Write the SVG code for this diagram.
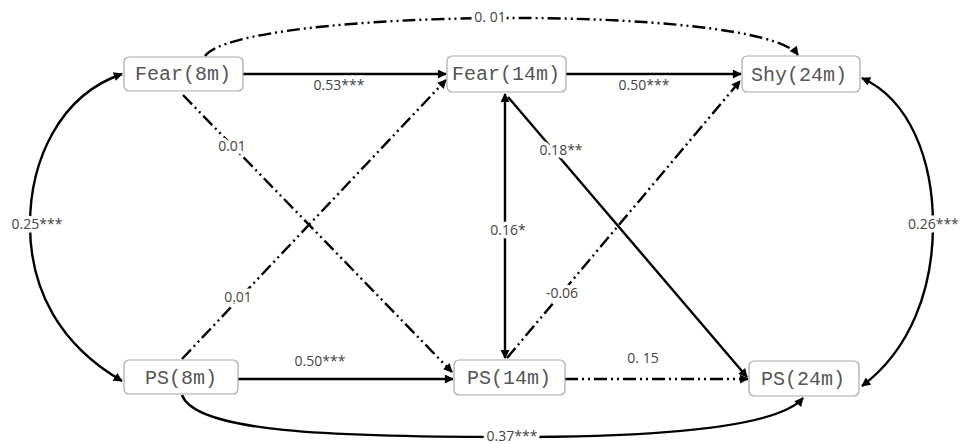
<svg xmlns="http://www.w3.org/2000/svg" width="961" height="444" viewBox="0 0 961 444">
<style>
.box{fill:#fff;stroke:#a8a8a8;stroke-width:1.2}
.nt{font-family:"Liberation Mono",monospace;font-size:20px;fill:#555;text-anchor:middle}
.e{fill:none;stroke:#000;stroke-width:2.4}
.d{stroke-dasharray:13 4 2 4 2 4}
.lb{font-family:"Open Sans","Liberation Sans",sans-serif;font-size:14px;fill:#444;text-anchor:middle;stroke:#fff;stroke-width:7;paint-order:stroke;stroke-linejoin:round}
</style>
<defs>
<marker id="ah" viewBox="0 0 10 10" refX="9" refY="5" markerWidth="11" markerHeight="9" markerUnits="userSpaceOnUse" orient="auto-start-reverse"><path d="M0,0 L10,5 L0,10 z" fill="#000"/></marker>
</defs>
<rect width="961" height="444" fill="#fff"/>
<g id="connectors">
<path class="e" d="M243,74 L446,74" marker-end="url(#ah)"/>
<path class="e" d="M566,74 L741,74" marker-end="url(#ah)"/>
<path class="e" d="M238,379 L453,379" marker-end="url(#ah)"/>
<path class="e d" d="M565,379 L748,379" marker-end="url(#ah)"/>
<path class="e" d="M505,94 L505,358" marker-start="url(#ah)" marker-end="url(#ah)"/>
<path class="e" d="M508,97 L747,377" marker-end="url(#ah)"/>
<path class="e d" d="M183,95 L452,372" marker-end="url(#ah)"/>
<path class="e d" d="M182,359 L446,80" marker-end="url(#ah)"/>
<path class="e d" d="M507,358 L740,81" marker-end="url(#ah)"/>
<path class="e d" d="M205,56 C240,8 760,3 798,55" marker-end="url(#ah)"/>
<path class="e" d="M182,395 C195,432 330,437 512,437 C680,437 780,425 803,398" marker-end="url(#ah)"/>
<path class="e" d="M122,74 C60,95 30,160 30,225 C30,290 60,345 122,381" marker-start="url(#ah)" marker-end="url(#ah)"/>
<path class="e" d="M862,78 C910,100 933,160 933,225 C933,290 910,350 862,386" marker-start="url(#ah)" marker-end="url(#ah)"/>
<text class="lb" x="339" y="90">0.53***</text>
<text class="lb" x="644" y="90">0.50***</text>
<text class="lb" x="320" y="366">0.50***</text>
<text class="lb" x="643" y="363">0. 15</text>
<text class="lb" x="508" y="235">0.16*</text>
<text class="lb" x="561" y="155">0.18**</text>
<text class="lb" x="232" y="151">0.01</text>
<text class="lb" x="238" y="302">0.01</text>
<text class="lb" x="562" y="298">-0.06</text>
<text class="lb" x="490" y="22">0. 01</text>
<text class="lb" x="512" y="441">0.37***</text>
<text class="lb" x="37" y="229">0.25***</text>
<text class="lb" x="908" y="229" style="text-anchor:start">0.26***</text>
</g>
<g id="fear8"><rect class="box" x="124" y="57" width="119" height="34" rx="5"/><text class="nt" x="183" y="80">Fear(8m)</text></g>
<g id="fear14"><rect class="box" x="447" y="56" width="119" height="36" rx="5"/><text class="nt" x="506" y="80">Fear(14m)</text></g>
<g id="shy24"><rect class="box" x="742" y="56" width="118" height="36" rx="5"/><text class="nt" x="799" y="81">Shy(24m)</text></g>
<g id="ps8"><rect class="box" x="124" y="360" width="114" height="34" rx="5"/><text class="nt" x="181" y="384">PS(8m)</text></g>
<g id="ps14"><rect class="box" x="454" y="360" width="111" height="35" rx="5"/><text class="nt" x="509" y="384">PS(14m)</text></g>
<g id="ps24"><rect class="box" x="749" y="361" width="110" height="35" rx="5"/><text class="nt" x="803" y="385">PS(24m)</text></g>
</svg>
